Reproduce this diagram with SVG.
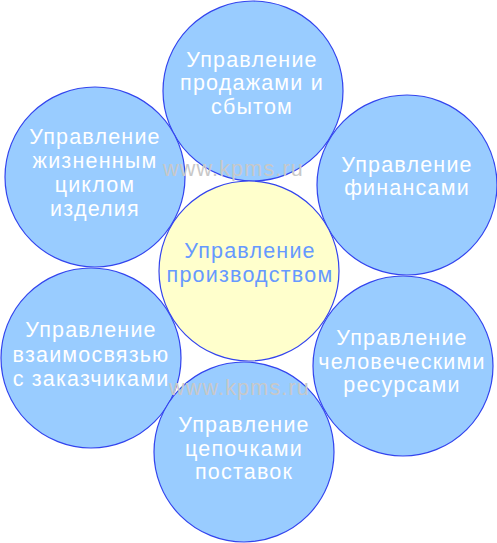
<svg xmlns="http://www.w3.org/2000/svg" width="497" height="543" viewBox="0 0 497 543">
<style>
.c{fill:#99ccff;stroke:#3344ee;stroke-width:1.2}
.m{fill:#ffffcc;stroke:#3344ee;stroke-width:1.2}
text{font-family:"Liberation Sans",Arial,sans-serif;font-size:21.5px;letter-spacing:1.2px;text-anchor:middle}
.w{fill:#ffffff}
.b{fill:#6699ff}
.wm{fill:#c8c8c8;text-anchor:start}
</style>
<rect width="497" height="543" fill="#ffffff"/>
<g id="sales"><circle class="c" cx="253" cy="91" r="90"/>
<text class="w"><tspan x="252" y="66.5">Управление</tspan><tspan x="252" y="90">продажами и</tspan><tspan x="252" y="114">сбытом</tspan></text></g>
<g id="lifecycle"><circle class="c" cx="95" cy="177" r="90"/>
<text class="w"><tspan x="95" y="144">Управление</tspan><tspan x="95" y="168">жизненным</tspan><tspan x="95" y="192">циклом</tspan><tspan x="95" y="216">изделия</tspan></text></g>
<g id="finance"><circle class="c" cx="407" cy="185" r="90"/>
<text class="w"><tspan x="407" y="172">Управление</tspan><tspan x="407" y="195">финансами</tspan></text></g>
<g id="production"><circle class="m" cx="249" cy="271" r="90"/>
<text class="b"><tspan x="250" y="258">Управление</tspan><tspan x="250" y="282">производством</tspan></text></g>
<g id="customers"><circle class="c" cx="91" cy="358" r="90"/>
<text class="w"><tspan x="91" y="337">Управление</tspan><tspan x="91" y="362">взаимосвязью</tspan><tspan x="91" y="386">с заказчиками</tspan></text></g>
<g id="hr"><circle class="c" cx="403" cy="366" r="90"/>
<text class="w"><tspan x="402" y="345">Управление</tspan><tspan x="402" y="369">человеческими</tspan><tspan x="402" y="392">ресурсами</tspan></text></g>
<g id="supply"><circle class="c" cx="244" cy="452" r="90"/>
<text class="w"><tspan x="244" y="432">Управление</tspan><tspan x="244" y="456">цепочками</tspan><tspan x="244" y="479">поставок</tspan></text></g>
<g id="connectors"></g>
<g id="watermarks">
<text class="wm" x="163" y="176">www.kpms.ru</text>
<text class="wm" x="169" y="395">www.kpms.ru</text>
</g>
</svg>
